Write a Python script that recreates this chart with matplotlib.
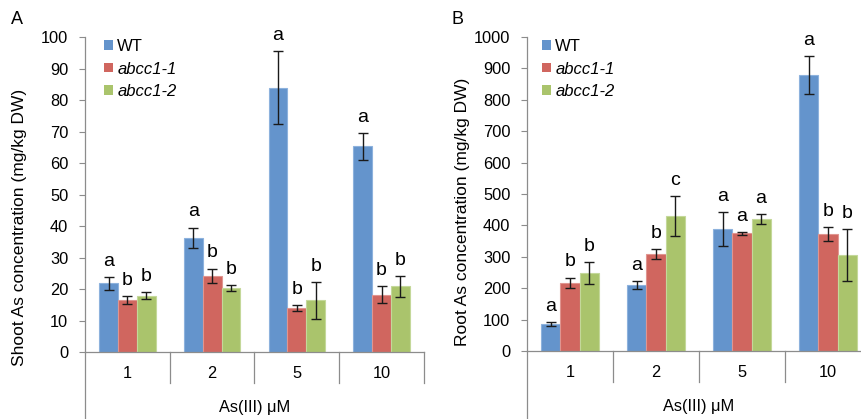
import matplotlib
matplotlib.use("Agg")
import matplotlib.pyplot as plt
import matplotlib.transforms as mtransforms
from matplotlib.patches import Patch
import numpy as np

plt.rcParams['font.family'] = ['Liberation Sans', 'DejaVu Sans']

# ---------------- data ----------------
categories = ["1", "2", "5", "10"]
series_names = ["WT", "abcc1-1", "abcc1-2"]

shoot_wt = [21.8, 36.3, 83.9, 65.3]
shoot_wt_err = [2.0, 3.2, 11.6, 4.2]
shoot_a1 = [16.5, 24.2, 14.0, 18.2]
shoot_a1_err = [1.4, 2.3, 0.9, 2.8]
shoot_a2 = [17.9, 20.4, 16.4, 20.8]
shoot_a2_err = [1.2, 0.9, 5.8, 3.3]
shoot_letters = [["a", "a", "a", "a"], ["b", "b", "b", "b"], ["b", "b", "b", "b"]]

root_wt = [86, 209, 388, 879]
root_wt_err = [5, 13, 54, 60]
root_a1 = [218, 310, 375, 373]
root_a1_err = [16, 16, 5, 23]
root_a2 = [247, 430, 421, 306]
root_a2_err = [35, 64, 16, 82]
root_letters = [["a", "a", "a", "a"], ["b", "b", "a", "b"], ["b", "c", "a", "b"]]

colors = ["#6494CC", "#D0665F", "#AAC46C"]
edgecolors = ["#8DB2DD", "#E09590", "#C4D89A"]

W, H = 862, 419
fig = plt.figure(figsize=(W / 100, H / 100), dpi=100)

axis_grey = "#8C8C8C"


def make_panel(left_px, right_px, top_px, bottom_px, vals, errs, letters,
               ymax, ystep, ylabel, ylabel_x, ylabel_y, panel, panel_x,
               leg_dx):
    ax = fig.add_axes([left_px / W, (H - bottom_px) / H,
                       (right_px - left_px) / W, (bottom_px - top_px) / H])
    ax_h = bottom_px - top_px
    x = np.arange(len(categories))
    bw = 1 / 4.5
    for i, (v, e) in enumerate(zip(vals, errs)):
        xs = x + (i - 1) * bw
        ax.bar(xs, v, bw, color=colors[i], edgecolor=edgecolors[i],
               linewidth=0.8, zorder=2)
        ax.errorbar(xs, v, yerr=e, fmt="none", ecolor="#1a1a1a",
                    elinewidth=1.0, capsize=3.5, capthick=1.0, zorder=3)
        for j in range(len(categories)):
            ax.annotate(letters[i][j], xy=(xs[j], v[j] + e[j]),
                        xytext=(0, 8), textcoords="offset points",
                        ha="center", va="baseline", fontsize=14)
    ax.set_xlim(-0.5, len(categories) - 0.5)
    ax.set_ylim(0, ymax)
    ax.set_yticks(np.arange(0, ymax + ystep / 2, ystep))
    ax.tick_params(axis="y", direction="out", length=4, width=0.8,
                   color=axis_grey, pad=8, labelsize=11.8)
    ax.set_xticks([])
    for s in ["top", "right"]:
        ax.spines[s].set_visible(False)
    for s in ["left", "bottom"]:
        ax.spines[s].set_color(axis_grey)
        ax.spines[s].set_linewidth(0.9)
    trans = mtransforms.blended_transform_factory(ax.transData, ax.transAxes)
    n = len(categories)
    for k in range(n + 1):
        xb = k - 0.5
        if k == 0:
            y1 = -(H - bottom_px) / ax_h
        else:
            y1 = -31 / ax_h
        ax.plot([xb, xb], [0, y1], color=axis_grey, lw=0.9,
                transform=trans, clip_on=False)
    for j, c in enumerate(categories):
        ax.text(j, -21 / ax_h, c, transform=trans, ha="center",
                va="center", fontsize=11.8)
    ax.text(0.5 * (n - 1), -55 / ax_h, "As(III) μM", transform=trans,
            ha="center", va="center", fontsize=11.8)
    fig.text(ylabel_x / W, (H - ylabel_y) / H, ylabel, rotation=90,
             ha="center", va="center", fontsize=12.5)
    fig.text(panel_x / W, (H - 19) / H, panel, ha="left", va="center",
             fontsize=13)
    handles = [Patch(facecolor=colors[i], edgecolor="none")
               for i in range(3)]
    leg = ax.legend(handles, series_names, loc="upper left",
                    bbox_to_anchor=(leg_dx / (right_px - left_px),
                                    1.0 - 2 / ax_h),
                    frameon=False, fontsize=12, handlelength=0.55,
                    handleheight=0.5, handletextpad=0.25,
                    labelspacing=0.45, borderpad=0, borderaxespad=0)
    for t in leg.get_texts()[1:]:
        t.set_style("italic")
    return ax


make_panel(85, 424, 37, 352,
           [shoot_wt, shoot_a1, shoot_a2],
           [shoot_wt_err, shoot_a1_err, shoot_a2_err],
           shoot_letters, 100, 10,
           "Shoot As concentration (mg/kg DW)", 20, 227, "A", 11, 19)

make_panel(527, 871, 37, 351,
           [root_wt, root_a1, root_a2],
           [root_wt_err, root_a1_err, root_a2_err],
           root_letters, 1000, 100,
           "Root As concentration (mg/kg DW)", 463, 212, "B", 452, 15)

fig.savefig("out.png", dpi=100)
